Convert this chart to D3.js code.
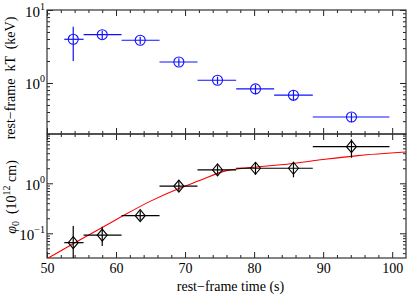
<!DOCTYPE html>
<html>
<head>
<meta charset="utf-8">
<title>kT and phi0 vs rest-frame time</title>
<style>
  body { margin: 0; background: #fff; }
  svg { display: block; font-family: "Liberation Serif", "Times New Roman", serif; }
  svg text { font-family: "Liberation Serif", "Times New Roman", serif; fill: #000; }
</style>
</head>
<body>
<svg id="chart" width="415" height="299"></svg>
<script src="https://d3js.org/d3.v7.min.js"></script>
<script>
// time bins (rest-frame s)
const tMid = [53.8, 58.0, 63.5, 69.1, 74.7, 80.2, 85.7, 94.1];
const tLo  = [52.5, 55.3, 60.8, 66.3, 71.8, 77.4, 82.9, 88.5];
const tHi  = [55.3, 60.8, 66.3, 71.8, 77.4, 82.9, 88.5, 99.6];

// upper panel: kT (keV)
const kT    = [3.97, 4.59, 3.85, 1.94, 1.09, 0.83, 0.68, 0.342];
const kTLo  = [2.0, 4.0, 3.4, 1.71, 0.96, 0.70, 0.57, 0.29];
const kTHi  = [5.9, 5.2, 4.3, 2.18, 1.22, 0.94, 0.80, 0.39];

// lower panel: phi0 (1e12 cm)
const phi   = [0.065, 0.092, 0.225, 0.88, 1.85, 2.0, 2.0, 5.4];
const phiLo = [0.02, 0.056, 0.18, 0.70, 1.49, 1.47, 1.32, 3.25];
const phiHi = [0.14, 0.135, 0.28, 1.13, 2.29, 2.63, 2.7, 7.6];

// red model curve
const modelT   = [50, 55, 60, 61.4, 65, 69.1, 72, 76, 77.5, 80, 85, 90, 95, 102];
const modelPhi = [0.031, 0.077, 0.187, 0.24, 0.44, 0.79, 1.12, 1.79, 1.93, 2.10, 2.44, 2.99, 3.58, 4.23];

const xMajor = [50, 60, 70, 80, 90, 100];
const xMinor = d3.range(52, 102, 2).filter(v => v % 10 !== 0);

const L = 47, R = 406, T = 10, M = 134, B = 258;
const svg = d3.select('#chart');
svg.append('rect').attr('width', 415).attr('height', 299).attr('fill', '#fff');

const x = d3.scaleLinear().domain([50, 102]).range([L, R]);
const yTop = d3.scaleLog().domain([0.2, 10]).range([M, T]);
const yBot = d3.scaleLog().domain([Math.pow(10, -1.494), Math.pow(10, 0.986)]).range([B, M]);

const isDecade = v => Math.abs(Math.log10(v) - Math.round(Math.log10(v))) < 1e-6;

function supLabel(sel, base, exp) {
  sel.text(null);
  sel.append('tspan').text(base);
  sel.append('tspan').attr('dy', -7).style('font-size', '10px').text(exp);
}

function frame(y, top, bot, showX) {
  const g = svg.append('g');
  const decades = y.ticks().filter(isDecade);
  const minors = y.ticks().filter(v => !isDecade(v));

  // x ticks, bottom (pointing up) and top (pointing down)
  g.append('g').attr('transform', `translate(0,${bot})`)
    .call(d3.axisBottom(x).tickValues(xMajor).tickSize(-6).tickPadding(5)
      .tickFormat(showX ? d3.format('d') : ''));
  g.append('g').attr('transform', `translate(0,${bot})`)
    .call(d3.axisBottom(x).tickValues(xMinor).tickSize(-3).tickFormat(''));
  g.append('g').attr('transform', `translate(0,${top})`)
    .call(d3.axisTop(x).tickValues(xMajor).tickSize(-6).tickFormat(''));
  g.append('g').attr('transform', `translate(0,${top})`)
    .call(d3.axisTop(x).tickValues(xMinor).tickSize(-3).tickFormat(''));

  // y ticks, left and right
  const yl = g.append('g').attr('transform', `translate(${L},0)`)
    .call(d3.axisLeft(y).tickValues(decades).tickSize(-6).tickPadding(4)
      .tickFormat(d => Math.round(Math.log10(d))));
  g.append('g').attr('transform', `translate(${L},0)`)
    .call(d3.axisLeft(y).tickValues(minors).tickSize(-3).tickFormat(''));
  g.append('g').attr('transform', `translate(${R},0)`)
    .call(d3.axisRight(y).tickValues(decades).tickSize(-6).tickFormat(''));
  g.append('g').attr('transform', `translate(${R},0)`)
    .call(d3.axisRight(y).tickValues(minors).tickSize(-3).tickFormat(''));

  g.selectAll('g').attr('font-family', null).attr('font-size', null);
  g.selectAll('.tick text').style('font-size', '14px');

  yl.selectAll('.tick text').each(function (d) {
    const e = Math.round(Math.log10(d));
    supLabel(d3.select(this), '10', e < 0 ? '\u2212' + (-e) : String(e));
  }).attr('x', -2).attr('dy', '0.4em').style('font-size', '15px');

  g.selectAll('.domain').remove();
  g.selectAll('.tick line').attr('stroke', '#222');
  g.append('rect').attr('x', L).attr('y', top).attr('width', R - L).attr('height', bot - top)
    .attr('fill', 'none').attr('stroke', '#333').attr('stroke-width', 1.2);
}

frame(yTop, T, M, false);
frame(yBot, M, B, true);

// clip paths for each panel
const defs = svg.append('defs');
defs.append('clipPath').attr('id', 'clipTop').append('rect')
  .attr('x', L).attr('y', T).attr('width', R - L).attr('height', M - T);
defs.append('clipPath').attr('id', 'clipBot').append('rect')
  .attr('x', L).attr('y', M).attr('width', R - L).attr('height', B - M);

// upper: blue circles with error bars
const blue = '#1010ff';
const up = svg.append('g').attr('clip-path', 'url(#clipTop)');
const idx = d3.range(tMid.length);
up.selectAll('line.xe').data(idx).join('line')
  .attr('x1', i => x(tLo[i])).attr('x2', i => x(tHi[i]))
  .attr('y1', i => yTop(kT[i])).attr('y2', i => yTop(kT[i]))
  .attr('stroke', blue).attr('stroke-width', 1.2);
up.selectAll('line.ye').data(idx).join('line')
  .attr('x1', i => x(tMid[i])).attr('x2', i => x(tMid[i]))
  .attr('y1', i => yTop(kTLo[i])).attr('y2', i => yTop(kTHi[i]))
  .attr('stroke', blue).attr('stroke-width', 1.2);
up.selectAll('circle').data(idx).join('circle')
  .attr('cx', i => x(tMid[i])).attr('cy', i => yTop(kT[i])).attr('r', 5)
  .attr('fill', 'none').attr('stroke', blue).attr('stroke-width', 1.1);

// lower: model curve, diamonds with error bars
const lo = svg.append('g').attr('clip-path', 'url(#clipBot)');
lo.append('path')
  .datum(d3.range(modelT.length))
  .attr('d', d3.line().x(i => x(modelT[i])).y(i => yBot(modelPhi[i])).curve(d3.curveMonotoneX))
  .attr('fill', 'none').attr('stroke', '#ff0000').attr('stroke-width', 1.1);
lo.selectAll('line.xe').data(idx).join('line')
  .attr('x1', i => x(tLo[i])).attr('x2', i => x(tHi[i]))
  .attr('y1', i => yBot(phi[i])).attr('y2', i => yBot(phi[i]))
  .attr('stroke', '#000').attr('stroke-width', 1.2);
lo.selectAll('line.ye').data(idx).join('line')
  .attr('x1', i => x(tMid[i])).attr('x2', i => x(tMid[i]))
  .attr('y1', i => yBot(phiLo[i])).attr('y2', i => yBot(phiHi[i]))
  .attr('stroke', '#000').attr('stroke-width', 1.2);
lo.selectAll('path.dia').data(idx).join('path')
  .attr('class', 'dia')
  .attr('transform', i => `translate(${x(tMid[i])},${yBot(phi[i])})`)
  .attr('d', 'M0,-6L5,0L0,6L-5,0Z')
  .attr('fill', 'none').attr('stroke', '#000').attr('stroke-width', 1.1);

// axis titles
svg.append('text').attr('x', (L + R) / 2 + 4).attr('y', 291)
  .attr('text-anchor', 'middle').style('font-size', '14px')
  .text('rest\u2212frame time (s)');

svg.append('text')
  .attr('transform', `translate(15,${(T + M) / 2 + 6}) rotate(-90)`)
  .attr('text-anchor', 'middle').style('font-size', '14px')
  .style('white-space', 'pre')
  .text('rest\u2212frame  kT  (keV)');

const t2 = svg.append('text')
  .attr('transform', `translate(16,197) rotate(-90)`)
  .attr('text-anchor', 'middle').style('font-size', '14px')
  .style('white-space', 'pre');
t2.append('tspan').attr('font-style', 'italic').text('\u03c6');
t2.append('tspan').attr('dy', 3).style('font-size', '10px').text('0');
t2.append('tspan').attr('dy', -3).text('  (10');
t2.append('tspan').attr('dy', -6).style('font-size', '10px').text('12');
t2.append('tspan').attr('dy', 6).text(' cm)');
</script>
</body>
</html>
